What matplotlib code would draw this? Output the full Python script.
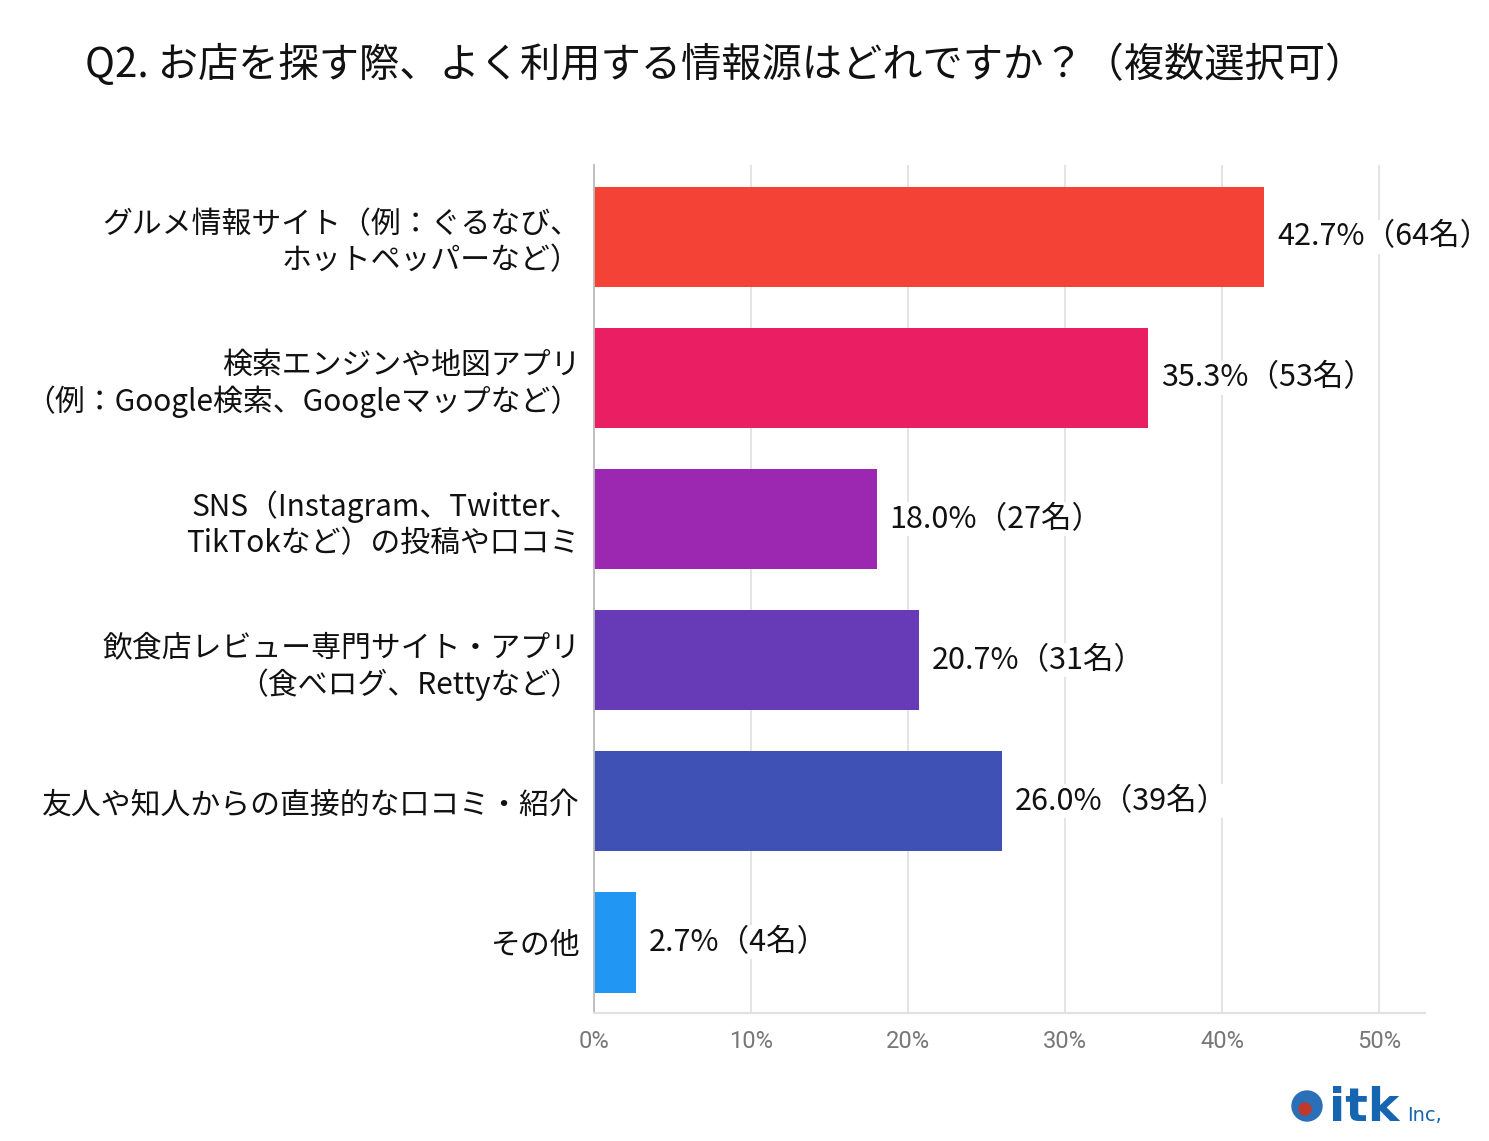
import matplotlib.pyplot as plt
from matplotlib.patches import Circle

plt.rcParams['font.family'] = ['Noto Sans CJK JP', 'DejaVu Sans']

title = 'Q2. お店を探す際、よく利用する情報源はどれですか？（複数選択可）'
categories = [
    'グルメ情報サイト（例：ぐるなび、\nホットペッパーなど）',
    '検索エンジンや地図アプリ\n（例：Google検索、Googleマップなど）',
    'SNS（Instagram、Twitter、\nTikTokなど）の投稿や口コミ',
    '飲食店レビュー専門サイト・アプリ\n（食べログ、Rettyなど）',
    '友人や知人からの直接的な口コミ・紹介',
    'その他',
]
percents = [42.7, 35.3, 18.0, 20.7, 26.0, 2.7]
counts = [64, 53, 27, 31, 39, 4]
colors = ['#F44336', '#E91E63', '#9C27B0', '#673AB7', '#3F51B5', '#2196F3']
xticks = [0, 10, 20, 30, 40, 50]

W, H = 1489, 1141
fig = plt.figure(figsize=(W / 100, H / 100), dpi=100)

# axes box in pixels: x 594..1425, y 165..1013
ax = fig.add_axes([594 / W, 1 - 1013 / H, (1425 - 594) / W, (1013 - 165) / H])

y = list(range(len(categories)))
ax.barh(y, percents, height=0.71, color=colors, zorder=2)
ax.set_ylim(5.5, -0.51)
ax.set_xlim(0, (1425 - 594) / 157 * 10)

ax.set_xticks(xticks)
ax.set_xticklabels([f'{t}%' for t in xticks], fontsize=17, color='#777777',
                   family=['Roboto', 'DejaVu Sans'])
ax.tick_params(axis='x', length=0, pad=12)
ax.set_yticks(y)
ax.set_yticklabels(categories, fontsize=21.5, color='#111111', linespacing=1.2)
ax.tick_params(axis='y', length=0, pad=10)
for lab in ax.get_yticklabels():
    lab.set_horizontalalignment('right')
    lab.set_multialignment('right')

ax.grid(axis='x', color='#e2e2e2', linewidth=1.3, zorder=0)
for s in ['top', 'right']:
    ax.spines[s].set_visible(False)
ax.spines['left'].set_color('#bbbbbb')
ax.spines['left'].set_linewidth(1.3)
ax.spines['bottom'].set_color('#e2e2e2')
ax.spines['bottom'].set_linewidth(1.6)

for i, (p, c) in enumerate(zip(percents, counts)):
    ax.text(p + 0.8, i, f'{p:.1f}%（{c}名）', va='center', ha='left',
            fontsize=22, color='#111111', zorder=3,
            bbox=dict(facecolor='white', edgecolor='none', pad=1))

fig.text(85 / W, 1 - 65 / H, title, fontsize=29, color='#111111',
         ha='left', va='center')

# itk logo
lax = fig.add_axes([1285 / W, 1 - 1130 / H, 200 / W, 60 / H])
lax.set_xlim(0, 200)
lax.set_ylim(0, 60)
lax.axis('off')
lax.add_patch(Circle((22, 24), 15, color='#2a6fb8'))
lax.add_patch(Circle((20, 21), 6, color='#c0392b'))
lax.text(44, 9, 'itk', fontsize=34, fontweight='bold', color='#1565b0',
         family=['DejaVu Sans'], va='baseline')
lax.text(122, 9, 'Inc,', fontsize=14, color='#1565b0',
         family=['DejaVu Sans'], va='baseline')

fig.savefig('out.png', dpi=100, facecolor='white')
